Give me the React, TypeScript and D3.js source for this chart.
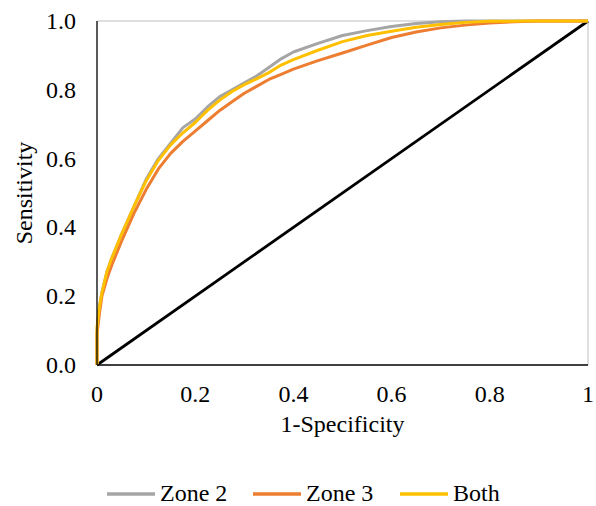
import React from "react";
import * as d3 from "d3";

const zone2X = [0, 0, 0.005, 0.01, 0.02, 0.03, 0.05, 0.075, 0.1, 0.125, 0.15, 0.175, 0.2, 0.225, 0.25, 0.275, 0.3, 0.325, 0.35, 0.375, 0.4, 0.45, 0.5, 0.55, 0.6, 0.65, 0.7, 0.75, 1];
const zone2Y = [0, 0.1, 0.17, 0.21, 0.27, 0.31, 0.38, 0.46, 0.54, 0.6, 0.645, 0.69, 0.715, 0.75, 0.78, 0.8, 0.82, 0.84, 0.865, 0.89, 0.91, 0.935, 0.958, 0.972, 0.984, 0.993, 0.998, 1, 1];

const zone3X = [0, 0, 0.005, 0.01, 0.02, 0.03, 0.05, 0.075, 0.1, 0.125, 0.15, 0.175, 0.2, 0.225, 0.25, 0.275, 0.3, 0.325, 0.35, 0.375, 0.4, 0.45, 0.5, 0.55, 0.6, 0.65, 0.7, 0.75, 0.8, 0.85, 0.9, 1];
const zone3Y = [0, 0.09, 0.15, 0.2, 0.25, 0.29, 0.36, 0.44, 0.51, 0.57, 0.615, 0.65, 0.68, 0.71, 0.74, 0.765, 0.79, 0.81, 0.83, 0.845, 0.86, 0.885, 0.907, 0.93, 0.952, 0.968, 0.98, 0.988, 0.994, 0.998, 1, 1];

const bothX = [0, 0, 0.005, 0.01, 0.02, 0.03, 0.05, 0.075, 0.1, 0.125, 0.15, 0.175, 0.2, 0.225, 0.25, 0.275, 0.3, 0.325, 0.35, 0.375, 0.4, 0.45, 0.5, 0.55, 0.6, 0.65, 0.7, 0.75, 0.8, 0.87, 1];
const bothY = [0, 0.11, 0.17, 0.21, 0.27, 0.31, 0.38, 0.46, 0.535, 0.595, 0.64, 0.675, 0.705, 0.74, 0.77, 0.795, 0.815, 0.832, 0.85, 0.872, 0.888, 0.915, 0.94, 0.958, 0.97, 0.982, 0.99, 0.996, 0.999, 1, 1];

const refX = [0, 1];
const refY = [0, 1];

const xTicks = [0, 0.2, 0.4, 0.6, 0.8, 1];
const xTickLabels = ["0", "0.2", "0.4", "0.6", "0.8", "1"];
const yTicks = [0, 0.2, 0.4, 0.6, 0.8, 1];
const yTickLabels = ["0.0", "0.2", "0.4", "0.6", "0.8", "1.0"];

const seriesNames = ["Zone 2", "Zone 3", "Both"];
const seriesColors = ["#A5A5A5", "#ED7D31", "#FFC000"];

const W = 596, H = 506;
const L = 97, R = 588, T = 21, B = 365;
const font = "'Liberation Serif', 'Times New Roman', serif";
const FS = 24;

export default function App() {
  const x = d3.scaleLinear().domain([0, 1]).range([L, R]);
  const y = d3.scaleLinear().domain([0, 1]).range([B, T]);
  const line = d3.line<[number, number]>().x(d => x(d[0])).y(d => y(d[1]));
  const mk = (xs: number[], ys: number[]) => xs.map((v, i) => [v, ys[i]] as [number, number]);
  const series = [mk(zone2X, zone2Y), mk(zone3X, zone3Y), mk(bothX, bothY)];
  const legendX = [107, 253, 400];

  return (
    <svg width={W} height={H} style={{ position: "absolute", left: 0, top: 0, background: "#fff", fontFamily: font }}>
      <rect x={0} y={0} width={W} height={H} fill="#fff" />
      <line x1={L} y1={T} x2={R} y2={T} stroke="#BFBFBF" strokeWidth={1} />
      <line x1={R} y1={T} x2={R} y2={B} stroke="#BFBFBF" strokeWidth={1} />
      <path d={line(mk(refX, refY)) || ""} fill="none" stroke="#000" strokeWidth={2.8} />
      {series.map((s, i) => (
        <path key={i} d={line(s) || ""} fill="none" stroke={seriesColors[i]} strokeWidth={3} strokeLinejoin="round" />
      ))}
      <line x1={L} y1={T} x2={L} y2={B} stroke="#000" strokeWidth={1.3} />
      <line x1={L} y1={B} x2={R} y2={B} stroke="#000" strokeWidth={1.3} />
      {xTicks.map((t, i) => (
        <text key={i} x={x(t)} y={402} fontSize={FS} textAnchor="middle" fill="#000">{xTickLabels[i]}</text>
      ))}
      {yTicks.map((t, i) => (
        <text key={i} x={76} y={y(t) + 8} fontSize={FS} textAnchor="end" fill="#000">{yTickLabels[i]}</text>
      ))}
      <text x={(L + R) / 2} y={432} fontSize={FS} textAnchor="middle" fill="#000">1-Specificity</text>
      <text transform={`translate(32, ${(T + B) / 2}) rotate(-90)`} fontSize={FS} textAnchor="middle" fill="#000">Sensitivity</text>
      {seriesNames.map((n, i) => (
        <g key={i}>
          <line x1={legendX[i]} y1={494} x2={legendX[i] + 48} y2={494} stroke={seriesColors[i]} strokeWidth={3.5} />
          <text x={legendX[i] + 53} y={501} fontSize={FS} fill="#000">{n}</text>
        </g>
      ))}
    </svg>
  );
}
